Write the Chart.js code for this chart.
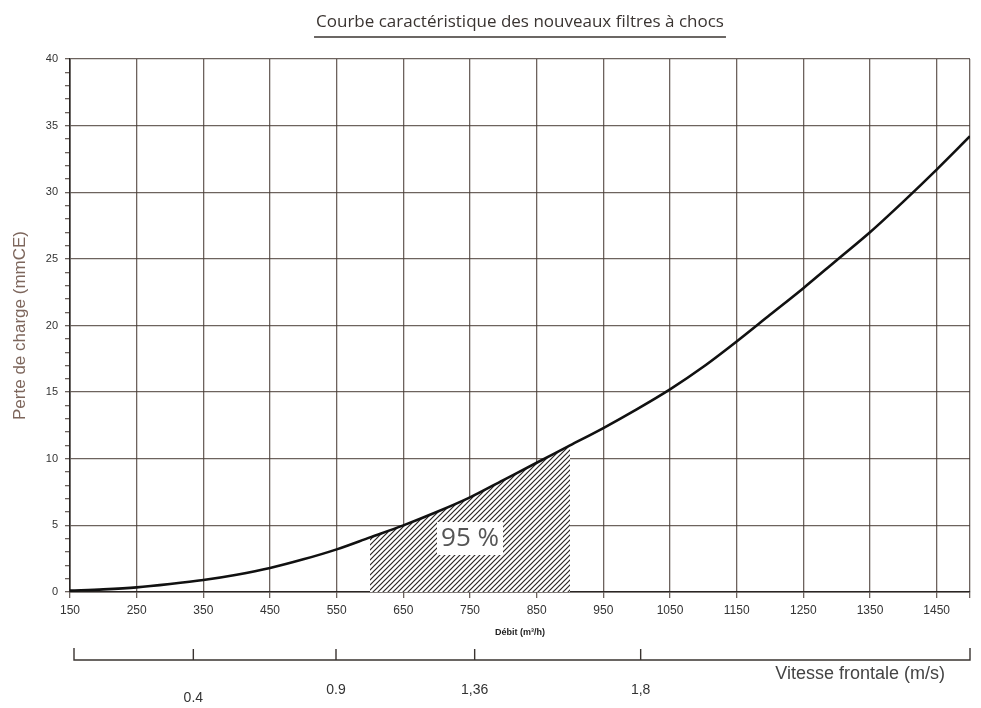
<!DOCTYPE html>
<html>
<head>
<meta charset="utf-8">
<title>Courbe caractéristique</title>
<script src="https://cdn.jsdelivr.net/npm/chart.js@4.4.0/dist/chart.umd.min.js"></script>
<style>
    html, body { margin: 0; padding: 0; background: #fff; }
    #wrap { width: 981px; height: 708px; }
</style>
</head>
<body>
<div id="wrap"><canvas id="courbe" width="981" height="708"></canvas></div>
<script>
(function() {
    'use strict';

    // Débit (m3/h) / perte de charge (mmCE)
    var debit = [150, 200, 250, 300, 350, 400, 450, 500, 550, 600, 650, 700, 750, 800,
                 850, 900, 950, 1000, 1050, 1100, 1150, 1200, 1250, 1300, 1350, 1400, 1450, 1500];
    var perte = [0.1, 0.2, 0.35, 0.6, 0.9, 1.3, 1.8, 2.45, 3.2, 4.1, 5.0, 6.0, 7.1, 8.4,
                 9.7, 11.0, 12.3, 13.7, 15.2, 16.9, 18.8, 20.8, 22.8, 24.9, 27.0, 29.3, 31.7, 34.2];

    var debitTicks = [150, 250, 350, 450, 550, 650, 750, 850, 950, 1050, 1150, 1250, 1350, 1450, 1500];
    var perteTicks = [0, 5, 10, 15, 20, 25, 30, 35, 40];

    // hatched zone
    var zoneDebit = [600, 900];
    var zoneLabel = '95 %';
    var zoneLabelAt = [750, 4.05];

    // frontal velocity scale under the chart
    var vitesseLabels = ['0.4', '0.9', '1,36', '1,8'];
    var vitesseDebit = [335, 549, 757, 1006];

    var titre = 'Courbe caractéristique des nouveaux filtres à chocs';
    var gridColor = 'rgba(72, 60, 54, 0.8)';
    var inkColor = '#3a3431';

    var points = debit.map(function(d, i) { return { x: d, y: perte[i] }; });
    var zonePoints = points.filter(function(p) { return p.x >= zoneDebit[0] && p.x <= zoneDebit[1]; });

    // diagonal hatch
    var tile = document.createElement('canvas');
    tile.width = 5;
    tile.height = 5;
    var tc = tile.getContext('2d');
    tc.fillStyle = '#fff';
    tc.fillRect(0, 0, 5, 5);
    tc.strokeStyle = '#2a2523';
    tc.lineWidth = 1.2;
    tc.beginPath();
    tc.moveTo(-1, 6); tc.lineTo(6, -1);
    tc.moveTo(-1, 1); tc.lineTo(1, -1);
    tc.moveTo(4, 6); tc.lineTo(6, 4);
    tc.stroke();
    var hatch = document.getElementById('courbe').getContext('2d').createPattern(tile, 'repeat');

    var minorY = [];
    for (var v = 0; v <= 40; v++) { minorY.push(v); }

    var titleUnderline = {
        id: 'titleUnderline',
        afterDraw: function(chart) {
            var ctx = chart.ctx;
            var t = chart.titleBlock;
            ctx.save();
            ctx.font = '17px "Open Sans"';
            var w = ctx.measureText(titre).width;
            var cx = (t.left + t.right) / 2;
            ctx.strokeStyle = inkColor;
            ctx.lineWidth = 1.4;
            ctx.beginPath();
            ctx.moveTo(cx - w / 2 - 2, t.bottom - 22);
            ctx.lineTo(cx + w / 2 + 2, t.bottom - 22);
            ctx.stroke();
            ctx.restore();
        }
    };

    var zoneText = {
        id: 'zoneText',
        afterDatasetsDraw: function(chart) {
            var ctx = chart.ctx;
            var px = chart.scales.x.getPixelForValue(zoneLabelAt[0]);
            var py = chart.scales.y.getPixelForValue(zoneLabelAt[1]);
            ctx.save();
            ctx.font = '26px "Open Sans"';
            var w = ctx.measureText(zoneLabel).width;
            ctx.fillStyle = '#fff';
            ctx.fillRect(px - w / 2 - 4, py - 16, w + 8, 33);
            ctx.fillStyle = '#555';
            ctx.textAlign = 'center';
            ctx.textBaseline = 'middle';
            ctx.fillText(zoneLabel, px, py + 1);
            ctx.restore();
        }
    };

    var vitesseAxis = {
        id: 'vitesseAxis',
        afterDraw: function(chart) {
            var ctx = chart.ctx;
            var sx = chart.scales.x;
            var y0 = 660;
            var x0 = sx.left + 4;
            var x1 = sx.right;
            ctx.save();
            ctx.strokeStyle = inkColor;
            ctx.lineWidth = 1.4;
            ctx.beginPath();
            ctx.moveTo(x0, y0 - 12);
            ctx.lineTo(x0, y0);
            ctx.lineTo(x1, y0);
            ctx.lineTo(x1, y0 - 12);
            vitesseDebit.forEach(function(d) {
                var px = sx.getPixelForValue(d);
                ctx.moveTo(px, y0);
                ctx.lineTo(px, y0 - 11);
            });
            ctx.stroke();

            ctx.fillStyle = '#333';
            ctx.textAlign = 'center';
            ctx.textBaseline = 'middle';
            ctx.font = '14px "Liberation Sans"';
            vitesseLabels.forEach(function(lbl, i) {
                // first label sits a little lower in the original
                ctx.fillText(lbl, sx.getPixelForValue(vitesseDebit[i]), y0 + (i === 0 ? 38 : 30));
            });

            ctx.font = '18px "Liberation Sans"';
            ctx.fillStyle = '#444';
            ctx.textAlign = 'right';
            ctx.fillText('Vitesse frontale (m/s)', x1 - 25, y0 + 14);
            ctx.restore();
        }
    };

    new Chart(document.getElementById('courbe'), {
        type: 'line',
        data: {
            datasets: [{
                label: 'Perte de charge',
                data: points,
                borderColor: '#111',
                borderWidth: 2.6,
                pointRadius: 0,
                fill: false,
                tension: 0.4,
                cubicInterpolationMode: 'monotone'
            }, {
                label: 'Zone 95 %',
                data: zonePoints,
                borderWidth: 0,
                borderColor: 'rgba(0,0,0,0)',
                backgroundColor: hatch,
                pointRadius: 0,
                fill: 'origin',
                tension: 0.4,
                cubicInterpolationMode: 'monotone'
            }]
        },
        options: {
            responsive: false,
            animation: false,
            layout: { padding: { left: 0, right: 11, top: 0, bottom: 66 } },
            plugins: {
                legend: { display: false },
                tooltip: { enabled: false },
                title: {
                    display: true,
                    text: titre,
                    fullSize: false,
                    color: inkColor,
                    font: { family: 'Open Sans', size: 17, weight: 'normal' },
                    padding: { top: 12, bottom: 26.6 }
                }
            },
            scales: {
                x: {
                    type: 'linear',
                    min: 150,
                    max: 1500,
                    afterBuildTicks: function(scale) {
                        scale.ticks = debitTicks.map(function(d) { return { value: d }; });
                    },
                    afterFit: function(scale) { scale.height = 50; },
                    ticks: {
                        autoSkip: false,
                        maxRotation: 0,
                        padding: 5,
                        color: '#333',
                        font: { family: 'Liberation Sans', size: 12 },
                        callback: function(val) { return val === 1500 ? '' : String(val); }
                    },
                    grid: { color: gridColor, lineWidth: 1.3, tickLength: 6, tickColor: gridColor },
                    border: { display: true, color: '#2a2523', width: 1.6 },
                    title: {
                        display: true,
                        text: 'Débit (m³/h)',
                        color: '#222',
                        font: { family: 'Liberation Sans', size: 9, weight: 'bold' },
                        padding: { top: 0, bottom: 4 }
                    }
                },
                y: {
                    type: 'linear',
                    min: 0,
                    max: 40,
                    afterBuildTicks: function(scale) {
                        scale.ticks = minorY.map(function(d) { return { value: d }; });
                    },
                    afterFit: function(scale) { scale.width = 70; },
                    ticks: {
                        autoSkip: false,
                        padding: 7,
                        color: '#333',
                        font: { family: 'Liberation Sans', size: 11 },
                        callback: function(val) { return perteTicks.indexOf(val) >= 0 ? String(val) : ''; }
                    },
                    grid: {
                        color: function(c) { return perteTicks.indexOf(c.tick.value) >= 0 ? gridColor : 'rgba(0,0,0,0)'; },
                        lineWidth: 1.3,
                        tickLength: 5,
                        tickColor: gridColor
                    },
                    border: { display: true, color: '#2a2523', width: 1.6 },
                    title: {
                        display: true,
                        text: 'Perte de charge (mmCE)',
                        color: '#7d665c',
                        font: { family: 'Liberation Sans', size: 17 },
                        padding: { top: 10, bottom: 0 }
                    }
                }
            }
        },
        plugins: [titleUnderline, zoneText, vitesseAxis]
    });
})();
</script>
</body>
</html>
